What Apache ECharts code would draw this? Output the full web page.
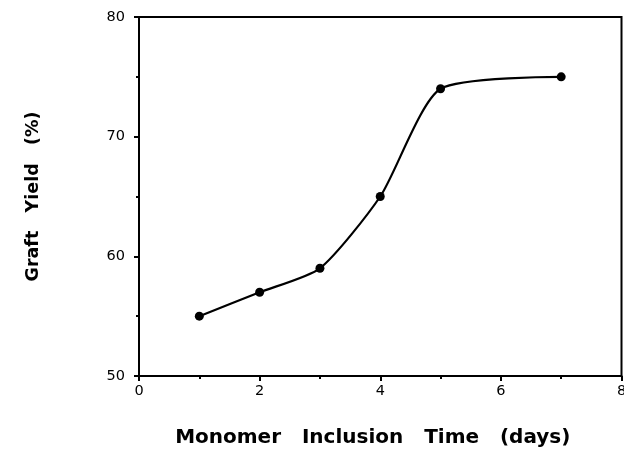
<!DOCTYPE html>
<html>
<head>
<meta charset="utf-8">
<script src="https://cdn.jsdelivr.net/npm/echarts@6/dist/echarts.min.js"></script>
<style>
html,body{margin:0;padding:0;background:#fff;}
#chart{width:624px;height:453px;}
</style>
</head>
<body>
<div id="chart"></div>
<script>
const days = [1, 2, 3, 4, 5, 7];
const graftYield = [55, 57, 59, 65, 74, 75];
const xTicks = [0, 2, 4, 6, 8];
const yTicks = [50, 60, 70, 80];

const FONT = '"DejaVu Sans", "Liberation Sans", Arial, sans-serif';
const chart = echarts.init(document.getElementById('chart'), null, {renderer: 'canvas'});
chart.setOption({
  backgroundColor: '#fff',
  animation: false,
  grid: {left: 139, right: 2.5, top: 17, bottom: 77, containLabel: false, outerBoundsMode: 'none',
         show: true, borderColor: '#000', borderWidth: 2, backgroundColor: 'transparent'},
  xAxis: {
    type: 'value', min: xTicks[0], max: xTicks[xTicks.length - 1], interval: 2,
    name: 'Monomer   Inclusion   Time   (days)',
    nameLocation: 'middle', nameGap: 52,
    nameTextStyle: {fontFamily: FONT, fontSize: 20, fontWeight: 'bold', color: '#000', padding: [0, 15, 0, 0]},
    axisLine: {show: true, lineStyle: {color: '#000', width: 2}},
    axisTick: {show: true, length: 5, lineStyle: {color: '#000', width: 2}},
    minorTick: {show: true, splitNumber: 2, length: 3, lineStyle: {color: '#000', width: 2}},
    splitLine: {show: false},
    axisLabel: {fontFamily: FONT, fontSize: 14.5, color: '#000', margin: 8}
  },
  yAxis: {
    type: 'value', min: yTicks[0], max: yTicks[yTicks.length - 1], interval: 10,
    name: 'Graft   Yield   (%)',
    nameLocation: 'middle', nameGap: 97, nameRotate: 90,
    nameTextStyle: {fontFamily: FONT, fontSize: 17.5, fontWeight: 'bold', color: '#000'},
    axisLine: {show: true, lineStyle: {color: '#000', width: 2}},
    axisTick: {show: true, length: 5, lineStyle: {color: '#000', width: 2}},
    minorTick: {show: true, splitNumber: 2, length: 3, lineStyle: {color: '#000', width: 2}},
    splitLine: {show: false},
    axisLabel: {fontFamily: FONT, fontSize: 14.5, color: '#000', margin: 14}
  },
  series: [{
    type: 'line',
    data: days.map((d, i) => [d, graftYield[i]]),
    smooth: 0.22,
    symbol: 'circle', symbolSize: 9,
    itemStyle: {color: '#000'},
    lineStyle: {color: '#000', width: 2.2}
  }]
});
</script>
</body>
</html>
